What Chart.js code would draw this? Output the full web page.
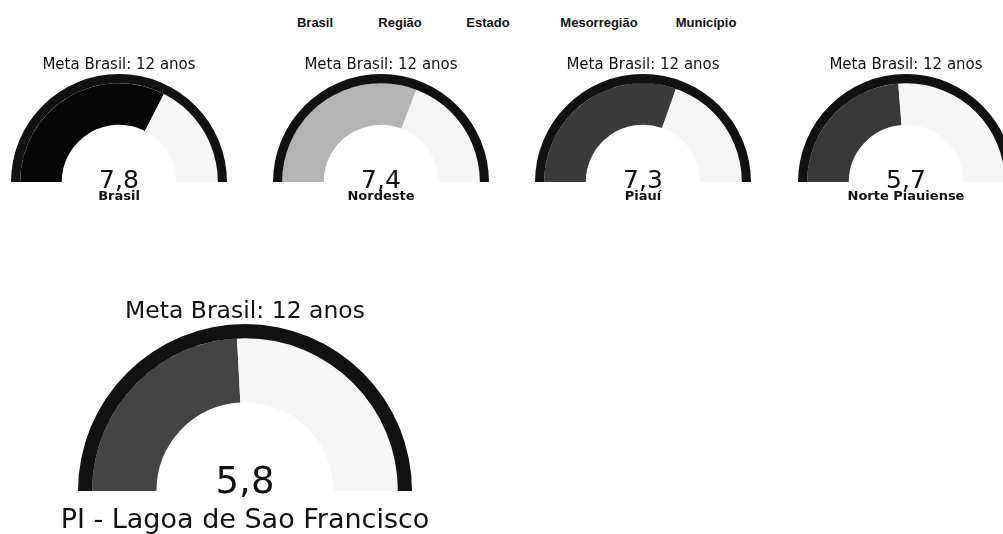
<!DOCTYPE html>
<html>
<head>
<meta charset="utf-8">
<script src="https://cdn.jsdelivr.net/npm/chart.js@4/dist/chart.umd.min.js"></script>
<style>
  body { margin: 0; background: #fff; width: 1003px; height: 534px; overflow: hidden; position: relative; }
  canvas { position: absolute; }
  .nivel { position: absolute; top: 15px; font: bold 13px "Liberation Sans", Arial, sans-serif; color: #111; transform: translateX(-50%); white-space: nowrap; }
</style>
</head>
<body>
<script>
'use strict';
// dados
var niveis = ['Brasil', 'Região', 'Estado', 'Mesorregião', 'Município'];
var locais = ['Brasil', 'Nordeste', 'Piauí', 'Norte Piauiense', 'PI - Lagoa de Sao Francisco'];
var valores = [7.8, 7.4, 7.3, 5.7, 5.8];
var metaBrasil = 12;

// posicao e estilo de cada medidor
var nivelX = [315, 400, 488, 599, 706];
var gauges = [
  {cx: 119, cy: 182, r: 108, cor: '#050505', tam: 'p'},
  {cx: 381, cy: 182, r: 108, cor: '#b4b4b4', tam: 'p'},
  {cx: 643, cy: 182, r: 108, cor: '#3b3b3b', tam: 'p'},
  {cx: 906, cy: 182, r: 108, cor: '#383838', tam: 'p'},
  {cx: 245, cy: 491, r: 167, cor: '#444444', tam: 'g'}
];
var estilos = {
  p: {pad: 20, top: 60, bottom: 28, titulo: '15px "DejaVu Sans"', tituloY: -113, valor: '25px "DejaVu Sans"', valorY: 6, nome: 'bold 13px "DejaVu Sans"', nomeY: 18},
  g: {pad: 40, top: 90, bottom: 43, titulo: '23.5px "DejaVu Sans"', tituloY: -173, valor: '37px "DejaVu Sans"', valorY: 2, nome: '27px "DejaVu Sans"', nomeY: 37}
};

for (var i = 0; i < niveis.length; i++) {
  var d = document.createElement('div');
  d.className = 'nivel';
  d.style.left = nivelX[i] + 'px';
  d.textContent = niveis[i];
  document.body.appendChild(d);
}

var textoGauge = {
  id: 'textoGauge',
  afterDraw: function (chart) {
    var arc = chart.getDatasetMeta(0).data[0];
    var st = chart.options.plugins.textoGauge;
    var ctx = chart.ctx;
    ctx.save();
    ctx.fillStyle = '#111';
    ctx.textAlign = 'center';
    ctx.textBaseline = 'alphabetic';
    ctx.font = st.titulo;
    ctx.fillText('Meta Brasil: ' + metaBrasil + ' anos', arc.x, arc.y + st.tituloY);
    ctx.font = st.valor;
    ctx.fillText(String(st.valorNum).replace('.', ','), arc.x, arc.y + st.valorY);
    ctx.font = st.nome;
    ctx.fillText(st.local, arc.x, arc.y + st.nomeY);
    ctx.restore();
  }
};

function desenhaGauge(k) {
  var g = gauges[k];
  var st = estilos[g.tam];
  var c = document.createElement('canvas');
  var w = 2 * g.r + 2 * st.pad;
  var h = g.r + st.top + st.bottom;
  c.width = w;
  c.height = h;
  c.style.left = (g.cx - g.r - st.pad) + 'px';
  c.style.top = (g.cy - g.r - st.top) + 'px';
  document.body.appendChild(c);
  new Chart(c.getContext('2d'), {
    type: 'doughnut',
    data: {
      labels: [locais[k], 'Restante'],
      datasets: [{
        data: [metaBrasil],
        backgroundColor: ['#111111'],
        weight: 9
      }, {
        data: [valores[k], metaBrasil - valores[k]],
        backgroundColor: [g.cor, '#f6f6f6'],
        weight: 41
      }]
    },
    options: {
      responsive: false,
      animation: false,
      rotation: -90,
      circumference: 180,
      cutout: '53%',
      borderWidth: 0,
      offset: 0,
      hoverOffset: 0,
      layout: {padding: {left: st.pad, right: st.pad, top: st.top, bottom: st.bottom}},
      plugins: {
        legend: {display: false},
        tooltip: {enabled: false},
        textoGauge: Object.assign({local: locais[k], valorNum: valores[k]}, st)
      }
    },
    plugins: [textoGauge]
  });
}

for (var j = 0; j < gauges.length; j++) {
  desenhaGauge(j);
}
</script>
</body>
</html>
